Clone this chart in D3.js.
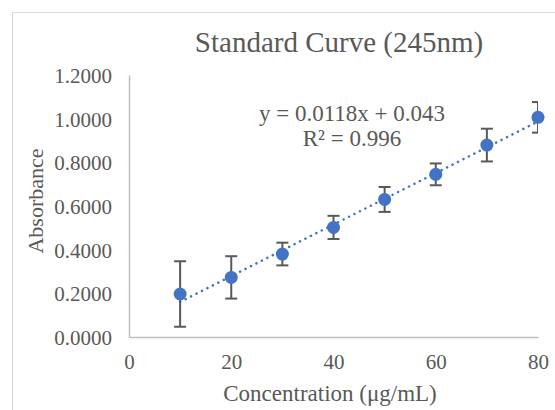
<!DOCTYPE html>
<html>
<head>
<meta charset="utf-8">
<script src="https://cdn.jsdelivr.net/npm/d3@7"></script>
<style>
  body { margin: 0; background: #fff; }
  svg text { font-family: "Liberation Serif", "Times New Roman", serif; fill: #595959; }
</style>
</head>
<body>
<svg id="chart" width="555" height="410"></svg>
<script>
// values
let concentrations = [10, 20, 30, 40, 50, 60, 70, 80];
let absorbance = [0.197, 0.273, 0.380, 0.502, 0.630, 0.745, 0.879, 1.006];
let errors = [0.150, 0.097, 0.052, 0.053, 0.057, 0.050, 0.075, 0.070];
let xTicks = [0, 20, 40, 60, 80];
let yTicks = [0, 0.2, 0.4, 0.6, 0.8, 1.0, 1.2];
let slope = 0.0118, intercept = 0.043;

let svg = d3.select('#chart');
let margin = {left: 129, right: 17, top: 75, bottom: 73};
let width = 555, height = 410;

// outer chart border (runs off the right/bottom edge)
svg.append('rect')
    .attr('x', 12.5).attr('y', 12.5)
    .attr('width', 600).attr('height', 600)
    .attr('fill', 'none')
    .attr('stroke', '#d9d9d9');

let x = d3.scaleLinear().domain([0, 80]).range([margin.left, width - margin.right]);
let y = d3.scaleLinear().domain([0, 1.2]).range([height - margin.bottom, margin.top]);

svg.append('defs').append('clipPath').attr('id', 'plotClip')
    .append('rect')
    .attr('x', x(0)).attr('y', y(1.2) - 20)
    .attr('width', x(80) - x(0)).attr('height', y(0) - y(1.2) + 20);

// axes
let xAxis = svg.append('g')
    .attr('transform', 'translate(0,' + y(0) + ')')
    .call(d3.axisBottom(x).tickValues(xTicks).tickSize(0).tickPadding(17));
let yAxis = svg.append('g')
    .attr('transform', 'translate(' + x(0) + ',0)')
    .call(d3.axisLeft(y).tickValues(yTicks).tickSize(0).tickPadding(17).tickFormat(d3.format('.4f')));

[xAxis, yAxis].forEach(a => {
    a.attr('font-size', 21).attr('font-family', '"Liberation Serif", serif');
    a.select('.domain').attr('stroke', '#bfbfbf').attr('stroke-width', 1.5);
    a.selectAll('text').attr('fill', '#595959').style('font-size', '21px');
});
yAxis.selectAll('text').attr('dy', '0.35em');

// trendline
svg.append('line')
    .attr('x1', x(10)).attr('y1', y(slope * 10 + intercept))
    .attr('x2', x(80)).attr('y2', y(slope * 80 + intercept))
    .attr('stroke', '#4472c4')
    .attr('stroke-width', 2.5)
    .attr('stroke-linecap', 'round')
    .attr('stroke-dasharray', '0.1 6');

// error bars
let errG = svg.append('g').attr('clip-path', 'url(#plotClip)')
    .attr('stroke', '#595959').attr('stroke-width', 2);
concentrations.forEach((c, i) => {
    let top = y(absorbance[i] + errors[i]), bot = y(absorbance[i] - errors[i]);
    errG.append('line').attr('x1', x(c)).attr('x2', x(c)).attr('y1', top).attr('y2', bot);
    errG.append('line').attr('x1', x(c) - 6).attr('x2', x(c) + 6).attr('y1', top).attr('y2', top);
    errG.append('line').attr('x1', x(c) - 6).attr('x2', x(c) + 6).attr('y1', bot).attr('y2', bot);
});

// points
svg.append('g').selectAll('circle')
    .data(concentrations)
    .join('circle')
    .attr('cx', d => x(d))
    .attr('cy', (d, i) => y(absorbance[i]))
    .attr('r', 6.5)
    .attr('fill', '#4472c4');

// texts
svg.append('text')
    .attr('x', 339).attr('y', 52)
    .attr('text-anchor', 'middle')
    .style('font-size', '29px')
    .text('Standard Curve (245nm)');

svg.append('text')
    .attr('x', 352).attr('y', 121)
    .attr('text-anchor', 'middle')
    .style('font-size', '23px')
    .text('y = 0.0118x + 0.043');
svg.append('text')
    .attr('x', 352).attr('y', 146)
    .attr('text-anchor', 'middle')
    .style('font-size', '23px')
    .text('R² = 0.996');

svg.append('text')
    .attr('transform', 'translate(43,' + 201 + ') rotate(-90)')
    .attr('text-anchor', 'middle')
    .style('font-size', '22px')
    .text('Absorbance');

svg.append('text')
    .attr('x', 330).attr('y', 401)
    .attr('text-anchor', 'middle')
    .style('font-size', '23px')
    .text('Concentration (μg/mL)');
</script>
</body>
</html>
